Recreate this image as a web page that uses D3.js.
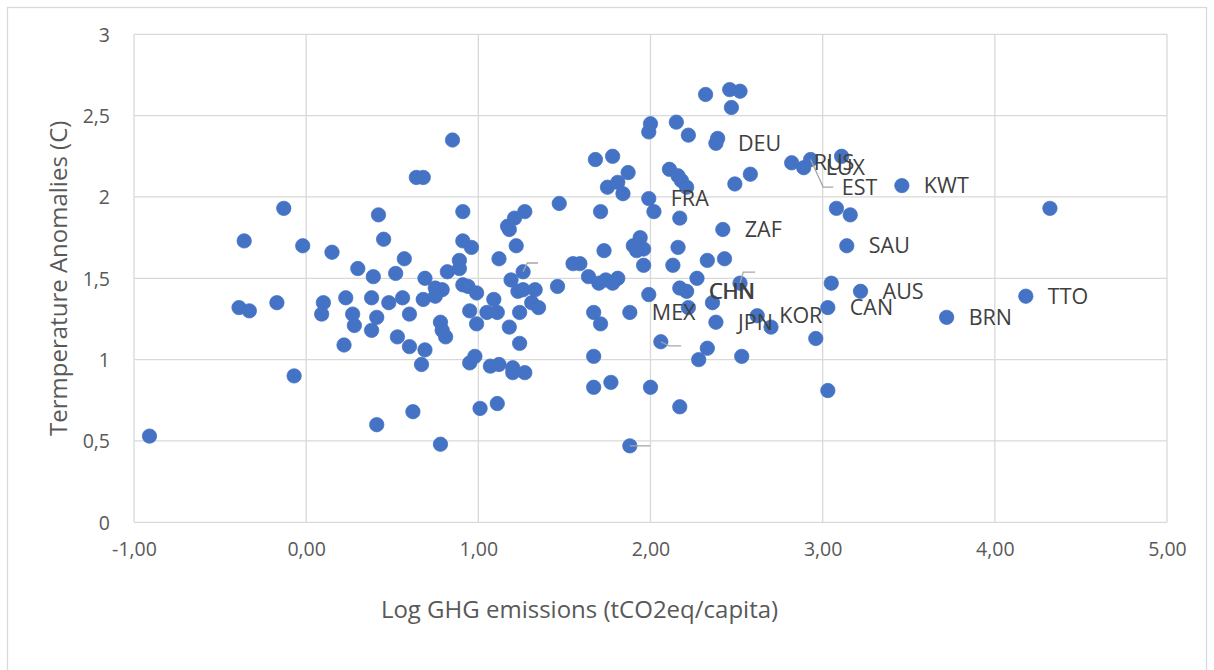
<!DOCTYPE html>
<html><head><meta charset="utf-8">
<script src="https://cdn.jsdelivr.net/npm/d3@7"></script>
<style>html,body{margin:0;padding:0;background:#fff}svg{display:block}</style>
</head><body>
<svg id="chart" width="1214" height="670"></svg>
<script>
// ---- data ----
const xValues = [-0.91,-0.36,-0.39,-0.33,-0.17,-0.13,-0.07,-0.02,0.10,0.09,
0.15,0.23,0.22,0.30,0.27,0.28,0.39,0.38,0.38,0.41,
0.41,0.42,0.45,0.48,0.52,0.53,0.57,0.56,0.60,0.60,
0.62,0.64,0.68,0.69,0.68,0.67,0.69,0.75,0.79,0.75,
0.78,0.79,0.81,0.78,0.82,0.85,0.89,0.89,0.91,0.91,
0.91,0.94,0.95,0.95,0.96,0.99,0.99,0.98,1.01,1.05,
1.09,1.11,1.07,1.12,1.11,1.12,1.17,1.18,1.19,1.18,
1.21,1.22,1.20,1.20,1.24,1.24,1.23,1.26,1.26,1.27,
1.27,1.31,1.33,1.35,1.46,1.47,1.55,1.59,1.64,1.70,
1.74,1.78,1.81,1.68,1.78,1.71,1.73,1.67,1.71,1.67,
1.67,1.77,1.75,1.81,1.84,1.87,1.88,1.88,1.90,1.94,
1.96,1.92,1.96,1.99,1.99,2.00,1.99,2.00,2.02,2.06,
2.11,2.16,2.18,2.21,2.13,2.15,2.16,2.17,2.17,2.21,
2.22,2.22,2.17,2.27,2.28,2.32,2.46,2.52,2.47,2.39,
2.38,2.33,2.43,2.36,2.38,2.42,2.49,2.58,2.33,2.53,
2.52,2.62,2.70,2.82,2.89,2.93,3.11,3.46,3.08,3.16,
3.14,3.05,3.22,3.03,2.96,3.03,3.72,4.18,4.32];
const yValues = [0.53,1.73,1.32,1.30,1.35,1.93,0.90,1.70,1.35,1.28,
1.66,1.38,1.09,1.56,1.28,1.21,1.51,1.38,1.18,1.26,
0.60,1.89,1.74,1.35,1.53,1.14,1.62,1.38,1.28,1.08,
0.68,2.12,2.12,1.50,1.37,0.97,1.06,1.44,1.43,1.39,
1.23,1.18,1.14,0.48,1.54,2.35,1.61,1.56,1.91,1.73,
1.46,1.45,1.30,0.98,1.69,1.41,1.22,1.02,0.70,1.29,
1.37,1.29,0.96,0.97,0.73,1.62,1.82,1.80,1.49,1.20,
1.87,1.70,0.95,0.92,1.29,1.10,1.42,1.43,1.54,0.92,
1.91,1.35,1.43,1.32,1.45,1.96,1.59,1.59,1.51,1.47,
1.49,1.47,1.50,2.23,2.25,1.91,1.67,1.29,1.22,1.02,
0.83,0.86,2.06,2.09,2.02,2.15,1.29,0.47,1.70,1.75,
1.68,1.67,1.58,1.40,1.99,2.45,2.40,0.83,1.91,1.11,
2.17,2.13,2.10,2.06,1.58,2.46,1.69,1.87,1.44,1.42,
2.38,1.32,0.71,1.50,1.00,2.63,2.66,2.65,2.55,2.36,
2.33,1.61,1.62,1.35,1.23,1.80,2.08,2.14,1.07,1.02,
1.47,1.27,1.20,2.21,2.18,2.23,2.25,2.07,1.93,1.89,
1.70,1.47,1.42,1.32,1.13,0.81,1.26,1.39,1.93];

// labelled points (code, point x, point y)
const labelCodes = ["DEU","FRA","ZAF","CHN","CHN","MEX","JPN","KOR","CAN","AUS","BRN","TTO","KWT","SAU","RUS","LUX"];
const labelX =     [2.38, 1.99, 2.42, 2.21, 2.215,1.88, 2.38, 2.62, 3.03, 3.22, 3.72, 4.18, 3.46, 3.14, 2.82, 2.89];
const labelY =     [2.33, 1.99, 1.80, 1.42, 1.42, 1.29, 1.23, 1.27, 1.32, 1.42, 1.26, 1.39, 2.07, 1.70, 2.21, 2.18];

// leader lines: from point, via elbow, to end (data units); optional label at end
const leaderPX = [1.26, 2.52, 2.06, 1.88, 2.93];
const leaderPY = [1.54, 1.47, 1.11, 0.47, 2.23];
const leaderEX1 = [1.284, 2.539, 2.109, 1.88, 3.003];
const leaderEY1 = [1.594, 1.538, 1.084, 0.47, 2.061];
const leaderEX2 = [1.347, 2.608, 2.178, 1.998, 3.062];
const leaderEY2 = [1.594, 1.538, 1.084, 0.47, 2.061];
const leaderText = ["", "", "", "", "EST"];

const xTicks = [-1,0,1,2,3,4,5];
const yTicks = [0,0.5,1,1.5,2,2.5,3];
const xTitle = "Log GHG emissions (tCO2eq/capita)";
const yTitle = "Termperature Anomalies (C)";

// ---- drawing ----
const svg = d3.select("#chart");
const m = {left:134, right:1167, top:34.3, bottom:522.3};
const x = d3.scaleLinear().domain([-1,5]).range([m.left, m.right]);
const y = d3.scaleLinear().domain([0,3]).range([m.bottom, m.top]);
const loc = d3.formatLocale({decimal:",", thousands:".", grouping:[3], currency:["",""], minus:"-"});
const fmtX = loc.format(".2f"), fmtY = loc.format("~g");
const FONT = "'Open Sans', 'DejaVu Sans', sans-serif";

svg.append("rect").attr("x",7.5).attr("y",7.5).attr("width",1199).attr("height",680)
  .attr("fill","#fff").attr("stroke","#d9d9d9").attr("stroke-width",1.3);

const grid = svg.append("g").attr("stroke","#d9d9d9").attr("stroke-width",1.3);
grid.selectAll("line.gy").data(yTicks).join("line").attr("class","gy")
  .attr("x1",m.left).attr("x2",m.right).attr("y1",d=>y(d)).attr("y2",d=>y(d));
grid.selectAll("line.gx").data(xTicks).join("line").attr("class","gx")
  .attr("y1",m.top).attr("y2",m.bottom).attr("x1",d=>x(d)).attr("x2",d=>x(d));

const xAxis = svg.append("g").attr("transform",`translate(0,${m.bottom})`)
  .call(d3.axisBottom(x).tickValues(xTicks).tickFormat(fmtX).tickSize(0));
xAxis.select(".domain").remove();
xAxis.attr("font-family",FONT).attr("font-size",19.5).attr("color","#595959");
xAxis.selectAll("text").attr("y",27).attr("dy","0.357em");

const yAxis = svg.append("g").attr("transform",`translate(${m.left},0)`)
  .call(d3.axisLeft(y).tickValues(yTicks).tickFormat(fmtY).tickSize(0).tickPadding(24));
yAxis.select(".domain").remove();
yAxis.attr("font-family",FONT).attr("font-size",19.5).attr("color","#595959");
yAxis.selectAll("text").attr("dy","0.357em");

const pts = d3.range(xValues.length).map(i=>({x:xValues[i], y:yValues[i]}));
svg.append("g").selectAll("circle").data(pts).join("circle")
  .attr("cx",d=>x(d.x)).attr("cy",d=>y(d.y)).attr("r",7.2)
  .attr("fill","#4472c4").attr("stroke","#4472c4").attr("stroke-width",0.75);

const leaders = d3.range(leaderPX.length).map(i=>({
  p:[x(leaderPX[i]),y(leaderPY[i])], a:[x(leaderEX1[i]),y(leaderEY1[i])], b:[x(leaderEX2[i]),y(leaderEY2[i])], t:leaderText[i]}));
svg.append("g").selectAll("path").data(leaders).join("path")
  .attr("d",d=>d3.line()([d.p,d.a,d.b])).attr("fill","none")
  .attr("stroke","#a6a6a6").attr("stroke-width",1.3);

const lab = svg.append("g").attr("font-family",FONT).attr("font-size",21.5).attr("fill","#404040");
lab.selectAll("text.pl").data(labelCodes.map((c,i)=>({c, x:labelX[i], y:labelY[i]}))).join("text")
  .attr("class","pl").attr("x",d=>x(d.x)+22).attr("y",d=>y(d.y)).attr("dy","0.357em").text(d=>d.c);
lab.selectAll("text.ll").data(leaders.filter(d=>d.t)).join("text")
  .attr("class","ll").attr("x",d=>d.b[0]+8.5).attr("y",d=>d.b[1]).attr("dy","0.357em").text(d=>d.t);

svg.append("text").attr("x",579.5).attr("y",609).attr("dy","0.357em").attr("text-anchor","middle")
  .attr("font-family",FONT).attr("font-size",24).attr("fill","#595959").text(xTitle);
svg.append("text").attr("transform",`translate(58,${(m.top+m.bottom)/2}) rotate(-90)`).attr("dy","0.357em")
  .attr("text-anchor","middle").attr("font-family",FONT).attr("font-size",24).attr("fill","#595959").text(yTitle);
</script>
</body></html>
